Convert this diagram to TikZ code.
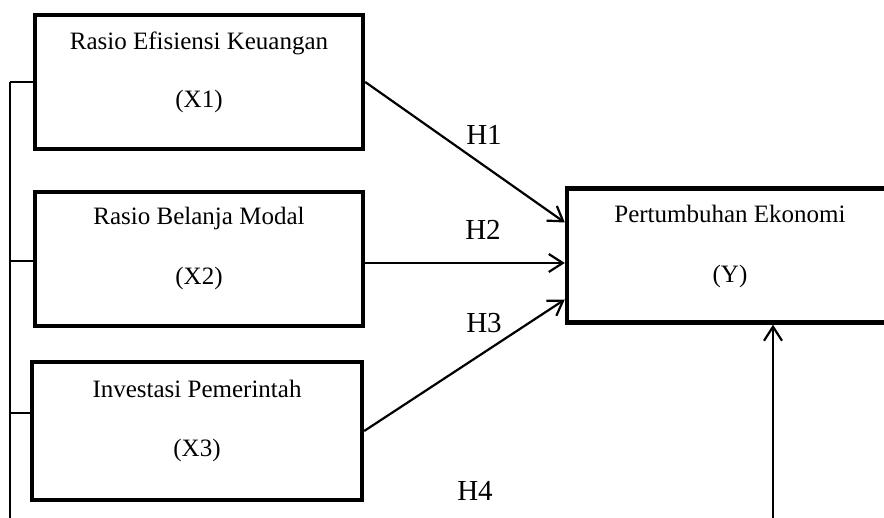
\documentclass[tikz,border=0pt]{standalone}
\usepackage{fontspec}
\setmainfont{Liberation Serif}
\usetikzlibrary{arrows.meta}

\tikzset{
  varbox/.style = {draw, line width=2.2pt, minimum width=164pt, minimum height=67pt, inner sep=0pt},
  boxtext/.style = {anchor=base, font=\fontsize{12.5}{15}\selectfont, inner sep=0pt},
  hyp/.style = {anchor=base, font=\fontsize{14.5}{17}\selectfont, inner sep=0pt},
  path/.style = {->, line width=1.1pt},
}

\begin{document}
\begin{tikzpicture}[x = 0.5pt, y = -0.5pt, >={Straight Barb[length=7pt, width=9pt]}]
\useasboundingbox (0,0) rectangle (884,518);
\clip (0,0) rectangle (884,518);
% variable boxes
\node [varbox] (x1) at (199,82) {};
\node [varbox] (x2) at (199,259) {};
\node [varbox, minimum width=165pt, minimum height=69pt] (x3) at (197,431) {};
\node [varbox, minimum width=163pt] (y) at (730,255.5) {};
% box texts
\node [boxtext] (x1name) at (199,50) {Rasio Efisiensi Keuangan};
\node [boxtext] (x1tag) at (199,108) {(X1)};
\node [boxtext] (x2name) at (199,225) {Rasio Belanja Modal};
\node [boxtext] (x2tag) at (199,285) {(X2)};
\node [boxtext] (x3name) at (197,398) {Investasi Pemerintah};
\node [boxtext] (x3tag) at (197,457) {(X3)};
\node [boxtext] (yname) at (730,223) {Pertumbuhan Ekonomi};
\node [boxtext] (ytag) at (730,283) {(Y)};
% bracket on the left
\coordinate (brtop) at (10,82);
\coordinate (brbot) at (10,518);
\draw [line width=0.8pt] (brtop) -- (brbot);
\draw [line width=0.8pt] (brtop) -- (x1.west);
\draw [line width=0.8pt] (brtop |- 0,261) -- (x2.west |- 0,261);
\draw [line width=0.8pt] (brtop |- 0,413) -- (x3.west |- 0,413);
% hypotheses
\draw [path] (x1.east) -- ([yshift=16.5pt]y.west);
\draw [path] (x2.east |- 0,263) -- (y.west |- 0,263);
\draw [path] (x3.east) -- ([yshift=-22pt]y.west);
\coordinate (h4foot) at (773,518);
\draw [path] (h4foot) -- (h4foot |- y.south);
\node [hyp] (h1) at (484,145) {H1};
\node [hyp] (h2) at (483,240) {H2};
\node [hyp] (h3) at (484,333) {H3};
\node [hyp] (h4) at (475,500) {H4};
\end{tikzpicture}
\end{document}
